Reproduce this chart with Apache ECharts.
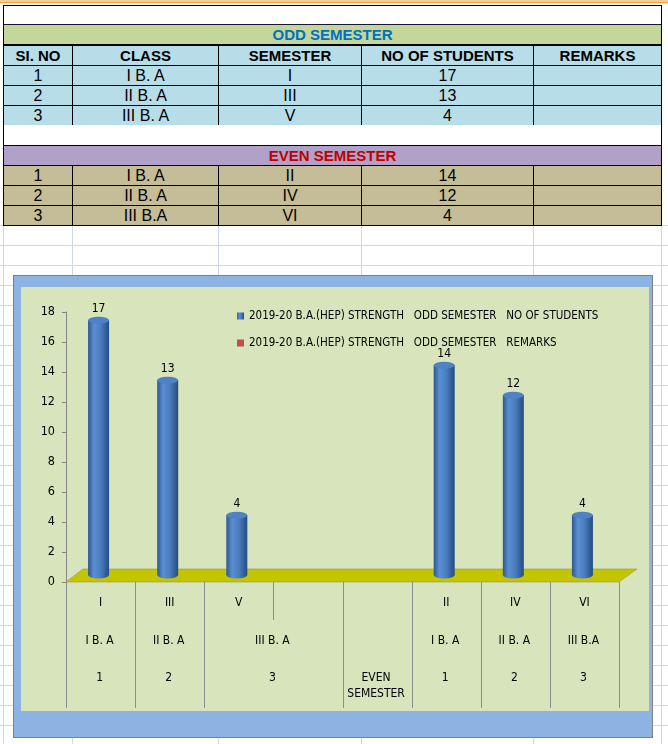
<!DOCTYPE html>
<html>
<head>
<meta charset="utf-8">
<script src="https://cdn.jsdelivr.net/npm/echarts@6/dist/echarts.min.js"></script>
<style>
  body { margin: 0; width: 668px; height: 744px; position: relative; overflow: hidden; background: #fff;
         font-family: "Liberation Sans", Arial, sans-serif; }
  .c { position: absolute; box-sizing: border-box; display: flex; align-items: center; justify-content: center;
       font-size: 16px; color: #000; white-space: pre; }
  .g { position: absolute; background: #d0d7e5; }
  #frame { position: absolute; left: 13px; top: 275px; width: 640px; height: 463px; box-sizing: border-box;
           border: 1px solid #7f7f7f; background: #8db3e2; }
  #main { position: absolute; left: 7px; top: 11px; width: 628px; height: 424px; background: #d8e4bc; }
</style>
</head>
<body>
<div id="sheet"></div>
<div id="frame"><div id="main"></div></div>
<script>
// table data
const headers = ["SI. NO", "CLASS", "SEMESTER", "NO OF STUDENTS", "REMARKS"];
const oddNo = ["1", "2", "3"];
const oddClass = ["I B. A", "II B. A", "III B. A"];
const oddSem = ["I", "III", "V"];
const oddStudents = [17, 13, 4];
const evenNo = ["1", "2", "3"];
const evenClass = ["I B. A", "II B. A", "III B.A"];
const evenSem = ["II", "IV", "VI"];
const evenStudents = [14, 12, 4];

// chart data (8 category slots, two of them empty)
const semesters = ["I", "III", "V", "", "", "II", "IV", "VI"];
const students = oddStudents.concat(["-", "-"], evenStudents);
const remarks = ["-", "-", "-", "-", "-", "-", "-", "-"];
const classGroups = ["I B. A", "II B. A", "III B. A", "", "I B. A", "II B. A", "III B.A"];
const noGroups = ["1", "2", "3", "EVEN\nSEMESTER", "1", "2", "3"];
const groupSpans = [1, 1, 2, 1, 1, 1, 1];
const seriesNames = [
  "2019-20 B.A.(HEP) STRENGTH   ODD SEMESTER   NO OF STUDENTS",
  "2019-20 B.A.(HEP) STRENGTH   ODD SEMESTER   REMARKS"
];

// ---- spreadsheet part ----
const sheet = document.getElementById("sheet");
const cols = [3, 72, 218, 361, 533, 661];

function box(x, y, w, h, css, text) {
  const d = document.createElement("div");
  d.className = "c";
  d.style.cssText = `left:${x}px;top:${y}px;width:${w}px;height:${h}px;${css}`;
  if (text != null) d.textContent = text;
  sheet.appendChild(d);
  return d;
}

// grid lines of the sheet
for (let y = 225; y < 744; y += 20) {
  const d = document.createElement("div");
  d.className = "g";
  d.style.cssText = `left:0;top:${y}px;width:668px;height:1px`;
  sheet.appendChild(d);
}
cols.forEach(x => {
  const d = document.createElement("div");
  d.className = "g";
  d.style.cssText = `left:${x}px;top:225px;width:1px;height:519px`;
  sheet.appendChild(d);
});

box(0, 0, 668, 3, "background:#f8cd92;border-bottom:1px solid #f0a040");
box(3, 5, 659, 21, "background:#fff;border:1px solid #000;border-bottom:2px solid #1c1433");
box(3, 25, 659, 21, "background:#c4d79b;border-left:1px solid #000;border-right:1px solid #000;" +
    "border-bottom:2px solid #000;font-weight:bold;font-size:15px;color:#0070c0", "ODD SEMESTER");

function row(y, cells, bg, extra) {
  cells.forEach((t, i) => {
    box(cols[i], y, cols[i + 1] - cols[i] + 1, 21,
        `background:${bg};border:1px solid #000;${extra || ""}`, t);
  });
}
row(45, headers, "#b7dde8", "font-weight:bold;font-size:15px");
for (let i = 0; i < 3; i++) {
  row(65 + i * 20, [oddNo[i], oddClass[i], oddSem[i], String(oddStudents[i]), ""], "#b7dde8");
}
box(3, 125, 659, 21, "background:#fff;border-left:1px solid #000;border-right:1px solid #000");
box(3, 145, 659, 21, "background:#b1a0c7;border:1px solid #000;font-weight:bold;font-size:15px;color:#c00000",
    "EVEN SEMESTER");
for (let i = 0; i < 3; i++) {
  row(165 + i * 20, [evenNo[i], evenClass[i], evenSem[i], String(evenStudents[i]), ""], "#c4bd97");
}

// ---- chart part ----
const FONT = '"Liberation Sans Narrow", "DejaVu Sans Condensed", "Liberation Sans", sans-serif';
let myChart = echarts.init(document.getElementById("main"));

// plot geometry (front grid holds the axes, back grid holds the cylinders)
const G = { left: 45, top: 25, width: 553, height: 270 };
const DEPTH = [-2, -7];
const slotW = G.width / semesters.length;
const baseY = G.top + G.height;

const bodyGrad = new echarts.graphic.LinearGradient(0, 0, 1, 0, [
  { offset: 0, color: "#2b5891" },
  { offset: 0.28, color: "#5b8fd2" },
  { offset: 0.6, color: "#4a7dc0" },
  { offset: 1, color: "#244c80" }
]);

// floor and dividers / group labels under the axis
const graphics = [];
graphics.push({
  type: "polygon", z: 0, silent: true,
  shape: { points: [[G.left, baseY], [G.left + 17, baseY - 13],
                    [G.left + G.width + 18, baseY - 13], [G.left + G.width, baseY]] },
  style: { fill: "#c4c400", stroke: "#9a9a40", lineWidth: 0.6 }
});
const groupEdges = [0];
groupSpans.forEach(s => groupEdges.push(groupEdges[groupEdges.length - 1] + s));
for (let k = 0; k <= semesters.length; k++) {
  const x = Math.round(G.left + k * slotW) + 0.5;
  const full = groupEdges.indexOf(k) >= 0;
  graphics.push({
    type: "line", silent: true,
    shape: { x1: x, y1: baseY, x2: x, y2: full ? 421 : 333 },
    style: { stroke: "#8c8c8c", lineWidth: 1 }
  });
}
groupSpans.forEach((s, i) => {
  const cx = G.left + (groupEdges[i] + s / 2) * slotW - 1;
  graphics.push({
    type: "text", silent: true,
    style: { x: cx, y: 354, text: classGroups[i], align: "center", verticalAlign: "middle",
             font: "12px " + FONT, fill: "#000" }
  });
  graphics.push({
    type: "text", silent: true,
    style: { x: cx, y: 383, text: noGroups[i], align: "center", verticalAlign: "top",
             font: "12px " + FONT, fill: "#000", lineHeight: 16 }
  });
});

let options = {
  animation: false,
  textStyle: { fontFamily: FONT },
  legend: {
    data: seriesNames, orient: "vertical", left: 216, top: 23, padding: 0, itemGap: 15,
    itemWidth: 7, itemHeight: 7, icon: "rect", selectedMode: false,
    textStyle: { fontSize: 11.5, color: "#000", lineHeight: 12, fontFamily: FONT }
  },
  grid: [
    { left: G.left, top: G.top, width: G.width, height: G.height },
    { left: G.left + DEPTH[0], top: G.top + DEPTH[1], width: G.width, height: G.height }
  ],
  xAxis: [
    { gridIndex: 0, type: "category", data: semesters,
      axisLine: { show: false }, axisTick: { show: false },
      axisLabel: { interval: 0, margin: 15, fontSize: 12, color: "#000", fontFamily: FONT } },
    { gridIndex: 1, type: "category", data: semesters, show: false }
  ],
  yAxis: [
    { gridIndex: 0, type: "value", min: 0, max: 18, interval: 2,
      axisLine: { show: true, lineStyle: { color: "#868686" } },
      axisTick: { show: true, length: 4, lineStyle: { color: "#868686" } },
      axisLabel: { margin: 11, fontSize: 12.5, color: "#000", fontFamily: FONT },
      splitLine: { show: false } },
    { gridIndex: 1, type: "value", min: 0, max: 18, interval: 2, show: false }
  ],
  series: [
    { name: seriesNames[0], type: "bar", xAxisIndex: 1, yAxisIndex: 1, data: students,
      barWidth: 21, barGap: "-100%", z: 3, itemStyle: { color: bodyGrad },
      label: { show: true, position: "top", distance: 5, fontSize: 12, color: "#000", fontFamily: FONT } },
    { name: seriesNames[1], type: "bar", xAxisIndex: 1, yAxisIndex: 1, data: remarks,
      barWidth: 21, barGap: "-100%", itemStyle: { color: "#c0504d" } },
    { type: "pictorialBar", xAxisIndex: 1, yAxisIndex: 1, data: students, silent: true,
      symbol: "circle", symbolSize: [21, 7], symbolPosition: "end", symbolOffset: [0, "-50%"], z: 4,
      itemStyle: { color: "#4f82c4", borderColor: "#2c5a94", borderWidth: 0.8 } },
    { type: "pictorialBar", xAxisIndex: 1, yAxisIndex: 1, data: students, silent: true,
      symbol: "circle", symbolSize: [21, 7], symbolPosition: "start", symbolOffset: [0, "50%"], z: 2,
      itemStyle: { color: bodyGrad } }
  ],
  graphic: graphics
};
myChart.setOption(options);
</script>
</body>
</html>
